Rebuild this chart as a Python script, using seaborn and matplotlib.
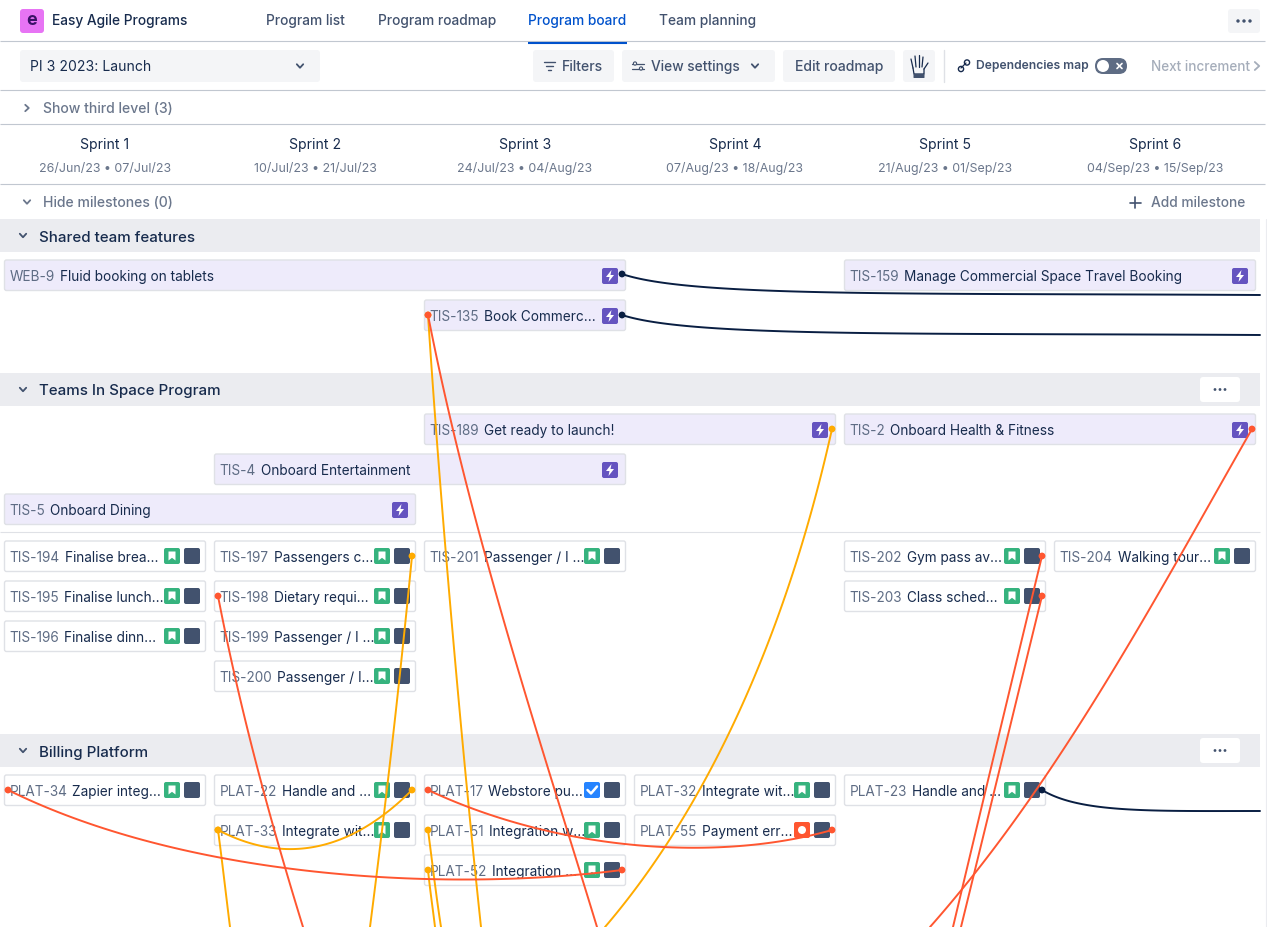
import numpy as np
import pandas as pd
import seaborn as sns
import matplotlib
matplotlib.use("Agg")
import matplotlib.pyplot as plt
from matplotlib.patches import FancyBboxPatch, Circle, Polygon

# ---------- data ----------
tabs = ["Program list", "Program roadmap", "Program board", "Team planning"]
tab_x = [266, 378, 528, 659]
sprints = ["Sprint 1", "Sprint 2", "Sprint 3", "Sprint 4", "Sprint 5", "Sprint 6"]
sprint_dates = ["26/Jun/23 • 07/Jul/23", "10/Jul/23 • 21/Jul/23", "24/Jul/23 • 04/Aug/23",
                "07/Aug/23 • 18/Aug/23", "21/Aug/23 • 01/Sep/23", "04/Sep/23 • 15/Sep/23"]
sections = ["Shared team features", "Teams In Space Program", "Billing Platform"]
section_y = [236, 390, 751]

# key, title, sprint column, span, row centre
features = [
    ("WEB-9", "Fluid booking on tablets", 0, 3, 276),
    ("TIS-159", "Manage Commercial Space Travel Booking", 4, 2, 276),
    ("TIS-135", "Book Commerc...", 2, 1, 316),
    ("TIS-189", "Get ready to launch!", 2, 2, 430),
    ("TIS-2", "Onboard Health & Fitness", 4, 2, 430),
    ("TIS-4", "Onboard Entertainment", 1, 2, 470),
    ("TIS-5", "Onboard Dining", 0, 2, 510),
]
# key, title, sprint column, row centre, type icon
stories = [
    ("TIS-194", "Finalise brea...", 0, 557, "story"),
    ("TIS-195", "Finalise lunch...", 0, 597, "story"),
    ("TIS-196", "Finalise dinn...", 0, 637, "story"),
    ("TIS-197", "Passengers c...", 1, 557, "story"),
    ("TIS-198", "Dietary requi...", 1, 597, "story"),
    ("TIS-199", "Passenger / I ...", 1, 637, "story"),
    ("TIS-200", "Passenger / I...", 1, 677, "story"),
    ("TIS-201", "Passenger / I ...", 2, 557, "story"),
    ("TIS-202", "Gym pass av...", 4, 557, "story"),
    ("TIS-203", "Class sched...", 4, 597, "story"),
    ("TIS-204", "Walking tour...", 5, 557, "story"),
    ("PLAT-34", "Zapier integ...", 0, 791, "story"),
    ("PLAT-22", "Handle and ...", 1, 791, "story"),
    ("PLAT-33", "Integrate wit...", 1, 831, "story"),
    ("PLAT-17", "Webstore pu...", 2, 791, "task"),
    ("PLAT-51", "Integration w...", 2, 831, "story"),
    ("PLAT-52", "Integration ...", 2, 871, "story"),
    ("PLAT-32", "Integrate wit...", 3, 791, "story"),
    ("PLAT-55", "Payment err...", 3, 831, "bug"),
    ("PLAT-23", "Handle and ...", 4, 791, "story"),
]
# dependency colour name, four control points
dependencies = [
    ("black", (622, 274), (690, 297), (900, 293), (1260, 295)),
    ("black", (622, 315), (690, 337), (900, 333), (1260, 335)),
    ("black", (1042, 790), (1080, 813), (1150, 811), (1260, 811)),
    ("amber", (428, 315), (440, 500), (462, 750), (481, 927)),
    ("amber", (832, 429), (785, 640), (705, 810), (605, 927)),
    ("amber", (412, 556), (400, 680), (385, 810), (370, 927)),
    ("amber", (218, 830), (285, 865), (350, 852), (412, 790)),
    ("amber", (218, 830), (222, 860), (226, 895), (230, 927)),
    ("amber", (428, 830), (432, 860), (436, 895), (441, 927)),
    ("amber", (428, 870), (430, 890), (433, 910), (435, 927)),
    ("red", (428, 315), (470, 530), (540, 740), (597, 927)),
    ("red", (1252, 429), (1160, 590), (1060, 780), (930, 927)),
    ("red", (1042, 556), (1012, 680), (982, 805), (953, 927)),
    ("red", (1042, 596), (1015, 706), (988, 817), (961, 927)),
    ("red", (218, 596), (240, 710), (270, 820), (303, 927)),
    ("red", (8, 790), (190, 880), (450, 892), (622, 870)),
    ("red", (428, 790), (560, 852), (720, 862), (832, 830)),
]
line_colours = {"black": "#091E42", "red": "#FF5630", "amber": "#FFAB00"}

# ---------- setup ----------
sns.set_theme(style="white")
plt.rcParams["font.family"] = ["Inter", "DejaVu Sans"]
W, H = 1267, 927
fig = plt.figure(figsize=(W / 100, H / 100), dpi=100)
ax = fig.add_axes([0, 0, 1, 1])
ax.set_xlim(0, W)
ax.set_ylim(H, 0)
ax.axis("off")
PX = 0.72
DARK, MID, GREY = "#172B4D", "#42526E", "#6B778C"
renderer = fig.canvas.get_renderer()


def txt(x, y, s, size=14, color=DARK, ha="left", weight="normal", z=5):
    return ax.text(x, y + 0.8, s, fontsize=size * PX, color=color, ha=ha, va="center",
                   fontweight=weight, zorder=z)


def box(x0, y0, x1, y1, fc, ec="none", r=3, lw=0, z=2):
    p = FancyBboxPatch((x0, y0), x1 - x0, y1 - y0, boxstyle=f"round,pad=0,rounding_size={r}",
                       fc=fc, ec=ec, lw=lw, zorder=z)
    ax.add_patch(p)


def hline(y, x0=0, x1=1265, c="#C1C7D0", lw=0.8):
    ax.plot([x0, x1], [y, y], color=c, lw=lw, zorder=1, solid_capstyle="butt")


def poly(xs, ys, c=GREY, lw=1.3, z=6):
    ax.plot(xs, ys, color=c, lw=lw, zorder=z, solid_capstyle="round", solid_joinstyle="round")


def chev_down(x, y, c=GREY, s=3.2):
    poly([x - s, x, x + s], [y - s * .55, y + s * .55, y - s * .55], c)


def chev_right(x, y, c=GREY, s=3.2):
    poly([x - s * .55, x + s * .55, x - s * .55], [y - s, y, y + s], c)


def icon(x, y, kind):
    box(x - 8, y - 8, x + 8, y + 8, {"story": "#36B37E", "task": "#2684FF", "bug": "#FF5630",
                                     "feature": "#6554C0", "team": "#42526E"}[kind], r=2, z=3)
    if kind == "story":
        ax.add_patch(Polygon([(x - 3.5, y - 4.5), (x + 3.5, y - 4.5), (x + 3.5, y + 4.5), (x, y + 1.8),
                              (x - 3.5, y + 4.5)], fc="white", ec="none", zorder=4))
    elif kind == "task":
        poly([x - 4.5, x - 1, x + 5], [y, y + 3.5, y - 3.5], "white", 1.8, 4)
    elif kind == "bug":
        ax.add_patch(Circle((x, y), 4, fc="white", ec="none", zorder=4))
    elif kind == "feature":
        ax.add_patch(Polygon([(x + 1.5, y - 6), (x - 4, y + 1), (x - 0.5, y + 1), (x - 1.5, y + 6),
                              (x + 4, y - 1), (x + 0.5, y - 1)], fc="white", ec="none", zorder=4))


def card_text(x, y, key, title):
    t = txt(x, y, key, 13.6, "#5E6C84", z=3)
    x1 = ax.transData.inverted().transform(t.get_window_extent(renderer))[1][0]
    txt(x1 + 5, y, title, 13.65, DARK, z=3)


# ---------- header ----------
box(20, 9, 44, 33, "#E774F4", r=3)
ax.text(32, 20.5, "e", fontsize=15 * PX * 1.2, color="#3A1166", ha="center", va="center", fontweight="bold", zorder=5)
txt(52, 20.5, "Easy Agile Programs", 13.8, DARK, weight="medium")
for name, x in zip(tabs, tab_x):
    active = name == "Program board"
    txt(x, 20, name, 13.8, "#0052CC" if active else MID, weight="medium")
ax.plot([528, 627], [42.5, 42.5], color="#0052CC", lw=1.5, zorder=3, solid_capstyle="butt")
box(1228, 9, 1260, 33, "#F4F5F7")
for dx in (-6, 0, 6):
    ax.add_patch(Circle((1244 + dx, 21), 1.7, fc=MID, ec="none", zorder=4))
hline(41)
# toolbar
box(20, 50, 320, 82, "#F4F5F7")
txt(30, 66, "PI 3 2023: Launch", 14, DARK)
chev_down(300, 66, MID)
box(533, 50, 614, 82, "#F4F5F7")
for w, yy in zip((5.5, 3.5, 1.5), (62, 66, 70)):
    poly([549 - w, 549 + w], [yy, yy], MID, 1.0)
txt(562, 66, "Filters", 14, MID, weight="medium")
box(622, 50, 775, 82, "#F4F5F7")
poly([632, 644], [63.5, 63.5], MID, 0.9)
poly([632, 644], [68.5, 68.5], MID, 0.9)
ax.add_patch(Circle((635, 63.5), 1.6, fc="#F4F5F7", ec=MID, lw=.8, zorder=7))
ax.add_patch(Circle((641, 68.5), 1.6, fc="#F4F5F7", ec=MID, lw=.8, zorder=7))
txt(651, 66, "View settings", 13.8, MID, weight="medium")
chev_down(755, 66, MID)
box(783, 50, 895, 82, "#F4F5F7")
txt(839, 66, "Edit roadmap", 14, MID, ha="center", weight="medium")
box(903, 50, 935, 82, "#F4F5F7")
for x0, y0, x1, y1 in [(913, 68, 911, 59), (916, 67, 915, 56), (919, 67, 919, 55), (922, 67, 923, 57), (924, 69, 928, 63)]:
    poly([x0, x1], [y0, y1], DARK, 0.9)
poly([913, 914, 924, 924], [68, 74, 74, 69], DARK, 0.9)
box(913.5, 74, 924.5, 78, MID, r=.5, z=6)
ax.plot([943.5, 943.5], [50, 82], color="#DFE1E6", lw=1, zorder=2)
poly([961, 966], [68, 63], DARK, 0.9)
ax.add_patch(Circle((961, 69), 2.6, fc="none", ec=DARK, lw=1.0, zorder=6))
ax.add_patch(Circle((967, 62.5), 2.6, fc="none", ec=DARK, lw=1.0, zorder=6))
txt(976, 65, "Dependencies map", 12.1, MID, weight="semibold")
box(1095, 58, 1127, 74, "#5E6C84", r=8)
ax.add_patch(Circle((1103, 66), 6, fc="white", ec="none", zorder=4))
poly([1117, 1122], [63.5, 68.5], "white", 1.2)
poly([1117, 1122], [68.5, 63.5], "white", 1.2)
txt(1151, 66, "Next increment", 13.5, "#A5ADBA", weight="medium")
chev_right(1257, 66, "#A5ADBA", 4)
hline(90)
# rows above the board
chev_right(27, 108)
txt(43, 108, "Show third level (3)", 14, GREY, weight="medium")
hline(124)
for i, (s, d) in enumerate(zip(sprints, sprint_dates)):
    cx = 105 + 210 * i
    txt(cx, 144, s, 14, DARK, ha="center")
    txt(cx, 168, d, 12.4, GREY, ha="center")
hline(184)
chev_down(27, 202)
txt(43, 202, "Hide milestones (0)", 14, GREY, weight="medium")
poly([1135, 1135], [197, 208], MID, 1.2)
poly([1129.5, 1140.5], [202.5, 202.5], MID, 1.2)
txt(1151, 202, "Add milestone", 13.8, GREY, weight="medium")

# ---------- board ----------
ax.plot([1265.5, 1265.5], [219, 927], color="#EBECF0", lw=0.8, zorder=1)
for name, y in zip(sections, section_y):
    ax.fill_between([0, 1260], y - 17, y + 16, color="#EBECF0", lw=0, zorder=1)
    chev_down(23, y - .5, MID)
    txt(39, y + 0.7, name, 15.1, DARK, weight="medium")
    if name != sections[0]:
        box(1200, y - 13, 1240, y + 12, "white", r=3)
        for dx in (-5, 0, 5):
            ax.add_patch(Circle((1220 + dx, y - .5), 1.4, fc=MID, ec="none", zorder=4))
hline(532, x1=1260, c="#DFE1E6")

for key, title, col, span, y in features:
    x0 = 4 + 210 * col
    x1 = x0 + 210 * span - 8
    box(x0 + .5, y - 16, x1 - .5, y + 14.5, "#EEEBFB", "#DFE1E6", r=2, lw=1)
    card_text(x0 + 5.5, y, key, title)
    icon(x1 - 16, y, "feature")

for key, title, col, y, kind in stories:
    x0 = 4 + 210 * col
    x1 = x0 + 202
    box(x0 + .5, y - 16, x1 - .5, y + 14.5, "white", "#DFE1E6", r=2, lw=1)
    card_text(x0 + 5.5, y, key, title)
    icon(x1 - 34, y - 1, kind)
    icon(x1 - 14, y - 1, "team")

# ---------- dependency curves ----------
t = np.linspace(0, 1, 80)
rows = []
for i, (cname, p0, p1, p2, p3) in enumerate(dependencies):
    P = np.array([p0, p1, p2, p3], float)
    xy = np.outer((1 - t) ** 3, P[0]) + np.outer(3 * (1 - t) ** 2 * t, P[1]) + \
        np.outer(3 * (1 - t) * t ** 2, P[2]) + np.outer(t ** 3, P[3])
    rows.append(pd.DataFrame({"x": xy[:, 0], "y": xy[:, 1], "dep": i, "colour": cname}))
curves = pd.concat(rows)
sns.lineplot(data=curves, x="x", y="y", units="dep", hue="colour", palette=line_colours, estimator=None,
             sort=False, lw=1.4, legend=False, ax=ax, zorder=8)
starts = pd.DataFrame([{"x": d[1][0], "y": d[1][1], "colour": d[0]} for d in dependencies])
ends = pd.DataFrame([{"x": d[4][0], "y": d[4][1], "colour": d[0]} for d in dependencies])
ends = ends[(ends["y"] < 900) & (ends["x"] < 1000)]
dots = pd.concat([starts, ends]).sort_values("colour")
sns.scatterplot(data=dots, x="x", y="y", hue="colour", palette=line_colours, s=24, linewidth=0,
                legend=False, ax=ax, zorder=9)
ax.set_xlim(0, W)
ax.set_ylim(H, 0)
ax.axis("off")
fig.savefig("out.png", dpi=100)
